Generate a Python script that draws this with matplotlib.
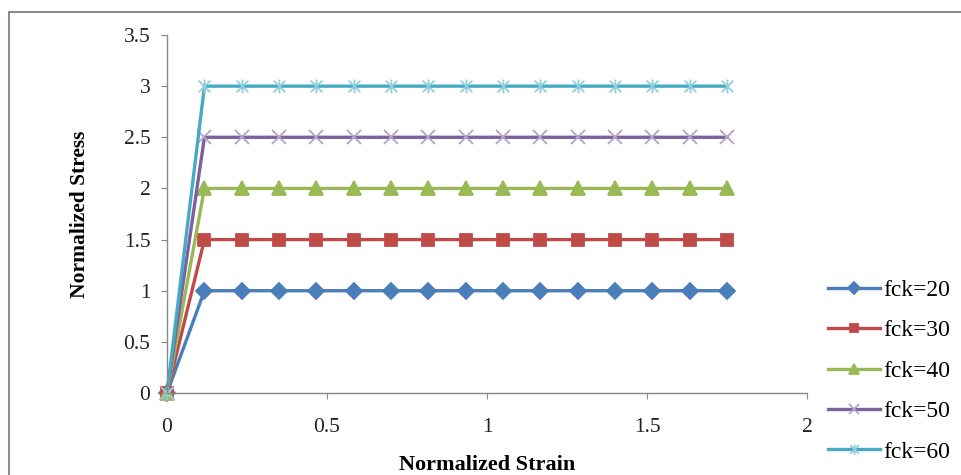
import matplotlib.pyplot as plt
from matplotlib.path import Path
from matplotlib.patches import Rectangle

plt.rcParams['font.family'] = ['Liberation Serif', 'DejaVu Serif']

# normalized strain points (same for every grade)
strain = [0, 0.117, 0.233, 0.35, 0.467, 0.583, 0.7, 0.817, 0.933,
          1.05, 1.167, 1.283, 1.4, 1.517, 1.633, 1.75]

# plateau stress for each grade
labels = ['fck=20', 'fck=30', 'fck=40', 'fck=50', 'fck=60']
plateau = [1, 1.5, 2, 2.5, 3]

line_colors = ['#4A7EBB', '#BE4B48', '#98B954', '#7D60A0', '#46AAC5']
marker_colors = ['#4A7EBB', '#BE4B48', '#98B954', '#B3A2C7', '#93CDDD']

# excel style star: an x with a vertical bar through it
star = Path([(-1, -1), (1, 1), (-1, 1), (1, -1), (0, -1.2), (0, 1.2)],
            [Path.MOVETO, Path.LINETO, Path.MOVETO, Path.LINETO,
             Path.MOVETO, Path.LINETO])
markers = ['D', 's', '^', 'x', star]
sizes = [8.5, 8, 9.5, 10, 10]

fig = plt.figure(figsize=(9.62, 4.75), dpi=100)
ax = fig.add_axes([0.1736, 0.1726, 0.6653, 0.7537])

for lab, p, lc, mc, m, ms in zip(labels, plateau, line_colors, marker_colors, markers, sizes):
    stress = [0] + [p] * (len(strain) - 1)
    ax.plot(strain, stress, color=lc, lw=2.4, marker=m, markersize=ms,
            markerfacecolor=mc, markeredgecolor=mc, markeredgewidth=1.3,
            label=lab, clip_on=False)

ax.set_xlim(0, 2)
ax.set_ylim(0, 3.5)
ax.set_xticks([0, 0.5, 1, 1.5, 2])
ax.set_xticklabels(['0', '0.5', '1', '1.5', '2'])
ax.set_yticks([0, 0.5, 1, 1.5, 2, 2.5, 3, 3.5])
ax.set_yticklabels(['0', '0.5', '1', '1.5', '2', '2.5', '3', '3.5'])
ax.tick_params(direction='out', length=4, color='#888888', labelsize=15.5,
               labelcolor='#222222')
ax.tick_params(axis='y', pad=8)
ax.tick_params(axis='x', pad=14)
for s in ['top', 'right']:
    ax.spines[s].set_visible(False)
for s in ['left', 'bottom']:
    ax.spines[s].set_color('#888888')
    ax.spines[s].set_linewidth(1)

ax.set_xlabel('Normalized Strain', fontsize=16, fontweight='bold', labelpad=13)
ax.set_ylabel('Normalized Stress', fontsize=15.5, fontweight='bold', labelpad=24)

ax.legend(loc='upper left', bbox_to_anchor=(1.033, 0.317), frameon=False,
          fontsize=17, handlelength=2.2, handletextpad=0.15, markerscale=0.75,
          labelspacing=0.8, borderaxespad=0, borderpad=0)

# chart frame
fig.patches.append(Rectangle((0.0094, -0.05), 1.1, 1.0247, transform=fig.transFigure,
                             fill=False, edgecolor='#8C8C8C', lw=1.5))

fig.savefig('out.png', dpi=100)
